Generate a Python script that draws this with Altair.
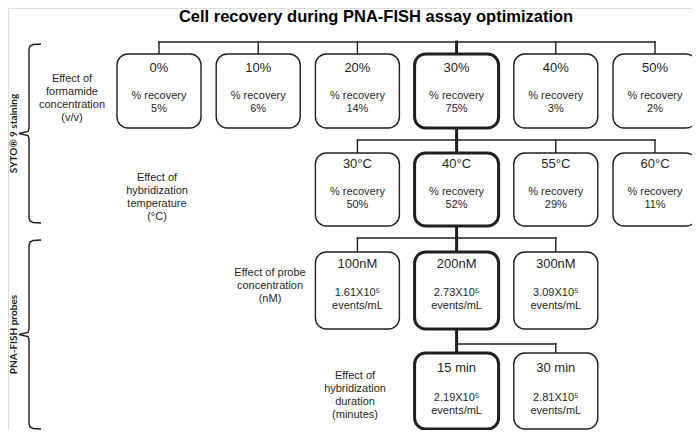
import altair as alt
import pandas as pd

# ---------------- data ----------------
TITLE = "Cell recovery during PNA-FISH assay optimization"

row0_labels = ["0%", "10%", "20%", "30%", "40%", "50%"]
row0_values = ["5%", "6%", "14%", "75%", "3%", "2%"]
row1_labels = ["30°C", "40°C", "55°C", "60°C"]
row1_values = ["50%", "52%", "29%", "11%"]
row2_labels = ["100nM", "200nM", "300nM"]
row2_values = ["1.61X10⁵", "2.73X10⁵", "3.09X10⁵"]
row3_labels = ["15 min", "30 min"]
row3_values = ["2.19X10⁵", "2.81X10⁵"]
selected = ["30%", "40°C", "200nM", "15 min"]

factor_labels = [
    "Effect of\nformamide\nconcentration\n(v/v)",
    "Effect of\nhybridization\ntemperature\n(°C)",
    "Effect of probe\nconcentration\n(nM)",
    "Effect of\nhybridization\nduration\n(minutes)",
]
group_labels = ["SYTO® 9 staining", "PNA-FISH probes"]

# ---------------- layout ----------------
COL_X0, COL_STEP, HALF_W = 159, 99.2, 42
ROW_TOP = [54, 153, 252, 353]
ROW_BOT = [128, 226, 329, 429]
ROW_BUS = [42, 140, 238, 344]
HEAD_DY = [14, 11, 12, 15]
BODY_DY = [42, 39, 41, 45]
ROW_START = [0, 2, 2, 3]
FACTOR_X = [72, 157, 270, 355]
FACTOR_Y = [79, 178, 273, 376]
GROUP_SPAN = [(44, 223), (240, 429)]
INK = "#1f1f1f"

rows = [
    (row0_labels, row0_values, "pct"),
    (row1_labels, row1_values, "pct"),
    (row2_labels, row2_values, "ev"),
    (row3_labels, row3_values, "ev"),
]

boxes, rules = [], []
for r, (labs, vals, kind) in enumerate(rows):
    cols = [ROW_START[r] + i for i in range(len(labs))]
    cxs = [COL_X0 + COL_STEP * c for c in cols]
    rules.append(dict(x=cxs[0], x2=cxs[-1], y=ROW_BUS[r], y2=ROW_BUS[r], w="thin"))
    for lab, val, cx in zip(labs, vals, cxs):
        sel = lab in selected
        body = ("% recovery\n" + val) if kind == "pct" else (val + "\nevents/mL")
        boxes.append(dict(
            head=lab, body=body, cx=cx,
            x=cx - HALF_W, x2=cx + HALF_W, y=ROW_TOP[r], y2=ROW_BOT[r],
            hy=ROW_TOP[r] + HEAD_DY[r], by=ROW_TOP[r] + BODY_DY[r],
            w="thick" if sel else "thin",
        ))
        rules.append(dict(x=cx, x2=cx, y=ROW_BUS[r], y2=ROW_TOP[r], w="thick" if sel else "thin"))
        if sel and r < len(rows) - 1:
            rules.append(dict(x=cx, x2=cx, y=ROW_BOT[r], y2=ROW_BUS[r + 1], w="thick"))

boxes = pd.DataFrame(boxes)
rules = pd.DataFrame(rules)

factors = pd.DataFrame(dict(text=factor_labels, x=FACTOR_X, y=FACTOR_Y))

# braces
brace_pts = []
for g, (t, b) in enumerate(GROUP_SPAN):
    m = (t + b) / 2
    shape = [(41, t), (33, t + 0.5), (30, t + 2), (29, t + 5), (29, m - 5), (28, m - 2),
             (19, m), (28, m + 2), (29, m + 5), (29, b - 5), (30, b - 2), (33, b - 0.5), (41, b)]
    for i, (px, py) in enumerate(shape):
        brace_pts.append(dict(g=g, o=i, x=px, y=py))
brace_pts = pd.DataFrame(brace_pts)

groups = pd.DataFrame(dict(text=group_labels,
                           x=[13.5, 13.5],
                           y=[(t + b) / 2 for t, b in GROUP_SPAN]))
title_df = pd.DataFrame(dict(text=[TITLE], x=[376], y=[17]))

# ---------------- scales ----------------
W, H = 684, 422
xs = alt.Scale(domain=[8, 8 + W], nice=False, zero=False)
ys = alt.Scale(domain=[8, 8 + H], nice=False, zero=False, reverse=True)
X = lambda f: alt.X(f, type="quantitative", scale=xs, axis=None)
Y = lambda f: alt.Y(f, type="quantitative", scale=ys, axis=None)
sw = alt.StrokeWidth("w:N", scale=alt.Scale(domain=["thin", "thick"], range=[1.4, 3]), legend=None)

rule_layer = alt.Chart(rules).mark_rule(color=INK, strokeCap="square").encode(
    x=X("x"), x2="x2", y=Y("y"), y2="y2", strokeWidth=sw)

box_layer = alt.Chart(boxes).mark_rect(cornerRadius=11, fill="white", stroke=INK).encode(
    x=X("x"), x2="x2", y=Y("y"), y2="y2", strokeWidth=sw)

head_layer = alt.Chart(boxes).mark_text(font="Liberation Sans", fontSize=13, color=INK,
                                        baseline="middle").encode(
    x=X("cx"), y=Y("hy"), text="head:N")

body_layer = alt.Chart(boxes).mark_text(font="Liberation Sans", fontSize=11, color=INK,
                                        baseline="middle", lineBreak="\n", lineHeight=13).encode(
    x=X("cx"), y=Y("by"), text="body:N")

factor_layer = alt.Chart(factors).mark_text(font="Liberation Sans", fontSize=11, color=INK,
                                            baseline="middle", lineBreak="\n", lineHeight=13).encode(
    x=X("x"), y=Y("y"), text="text:N")

brace_layer = alt.Chart(brace_pts).mark_line(color=INK, strokeWidth=1.4).encode(
    x=X("x"), y=Y("y"), order="o:Q", detail="g:N")

group_layer = alt.Chart(groups).mark_text(font="Lato", fontWeight="bold", fontSize=10,
                                          color=INK, angle=270, baseline="middle").encode(
    x=X("x"), y=Y("y"), text="text:N")

title_layer = alt.Chart(title_df).mark_text(font="Liberation Sans", fontWeight="bold",
                                            fontSize=16.5, color="black", baseline="middle").encode(
    x=X("x"), y=Y("y"), text="text:N")

chart = alt.layer(rule_layer, box_layer, head_layer, body_layer, factor_layer,
                  brace_layer, group_layer, title_layer).properties(
    width=W, height=H, autosize=alt.AutoSizeParams(type="none"), padding=0
).configure_view(stroke=None).configure(background="white")

chart.save("out.html", embed_options={"renderer": "svg", "actions": False})
